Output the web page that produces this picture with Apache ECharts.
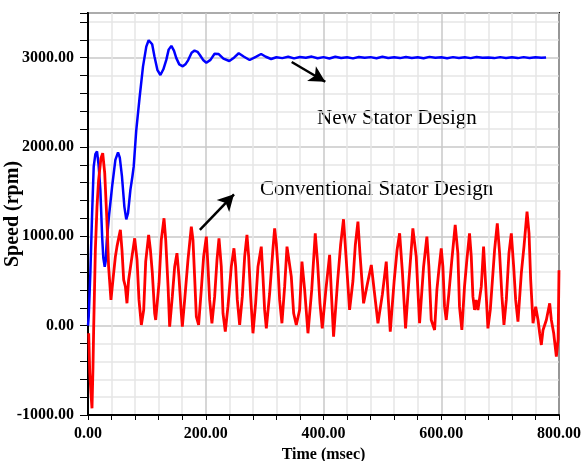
<!DOCTYPE html>
<html>
	<head>
		<meta charset="utf-8">
		<title></title>
		<script src="https://cdn.jsdelivr.net/npm/echarts@6/dist/echarts.min.js"></script>
	</head>
	<body style="margin:0;">
		<div id="my" style="width: 581px;height: 461px;"></div>

		<script>
			var myChart = echarts.init(document.getElementById('my'));

			// [time (msec), speed (rpm)]
			var newStatorSpeed = [[0,0],[1.2,100],[4,590],[7,1260],[9.7,1780],[12.5,1920],[15.3,1950],[18,1800],[21,1520],[24,1000],
				[26,760],[28.4,660],[30,720],[32,960],[36,1250],[41,1560],[46.5,1855],[51,1940],[54,1880],[57.7,1670],
				[61.8,1330],[65,1190],[68,1260],[72,1520],[75.4,1670],[77.6,1780],[82,2190],[87.8,2565],[93.4,2900],[99,3124],
				[103,3195],[106,3206],[109,3150],[113,3011],[118,2860],[123,2806],[128,2870],[133,2975],[137,3090],[141.6,3132],
				[146,3080],[150,2995],[155,2925],[161,2903],[166,2930],[170,2970],[176,3055],[181,3080],[186,3065],[190,3030],
				[196,2970],[201,2944],[208,2975],[215,3043],[217,3060],[222,3040],[230,2990],[240,2963],[248,3000],[256,3049],
				[265,3010],[274.5,2974],[285,3010],[294,3041],[302,3010],[311,2985],[320,3005],[330,2995],[340,3010],[350,2992],
				[360,3008],[370,2998],[380,3012],[390,2994],[400,3006],[410,2990],[420,3010],[430,2996],[440,3004],[450,2992],
				[460,3008],[470,2998],[480,3006],[490,2994],[500,3010],[510,2996],[520,3004],[530,2995],[540,3008],[550,2997],
				[560,3005],[570,2993],[580,3009],[590,2998],[600,3004],[610,2994],[620,3006],[630,2997],[640,3005],[650,2995],
				[660,3007],[670,2998],[680,3003],[690,2995],[700,3006],[710,2997],[720,3004],[730,2995],[740,3006],[750,2997],
				[760,3004],[770,2998],[778,3002]];

			var convStatorSpeed = [[1.2,-85],[3,-530],[5,-755],[6.8,-925],[8.5,-460],[9.7,-10],[12.5,848],[15.3,1333],[18,1630],[22,1875],
				[25,1930],[28.4,1707],[32.3,1147],[35,660],[39,288],[42.4,512],[46.5,773],[49.2,885],[52.6,997],[55,1072],
				[57.7,848],[60.6,512],[63.5,437],[66.2,251],[69,512],[74.7,773],[79.3,978],[83.3,736],[86.6,288],[90.6,8],
				[94.6,176],[98,717],[103,1016],[106,848],[109.3,587],[113.2,139],[115,64],[120.6,475],[124.5,960],[129.1,1202],
				[132,960],[136,437],[138.7,-11],[143.2,325],[147.2,661],[151.1,811],[154.5,549],[158.5,139],[160.2,-11],[164.2,288],
				[169.8,736],[175.5,1109],[178.3,960],[181.1,549],[184,101],[187.9,8],[192.4,400],[196.4,773],[201,997],[203.8,661],
				[206.6,288],[210.5,27],[215.1,325],[219.1,736],[222.5,978],[226.4,661],[229.3,139],[233.2,-67],[237.7,213],[243.4,661],
				[247.9,866],[250.8,661],[253.6,288],[257.6,8],[262.1,325],[266.1,773],[270,1016],[272.9,773],[276.3,325],[280.2,-85],
				[284.7,250],[288.7,661],[294.3,885],[297.2,549],[300,176],[302.9,-30],[308.6,363],[314,848],[317,1090],[319.8,922],
				[322.6,661],[325.5,288],[329.4,27],[334,437],[338,885],[341.3,904],[345.3,549],[349.3,139],[353.8,8],[359.4,176],
				[363.4,717],[368,400],[373.6,-85],[380,400],[386,1034],[390,700],[394,250],[397.9,-30],[404,400],[410.4,792],
				[413.5,350],[417.1,-123],[424,500],[429,900],[434,1191],[438,800],[444.3,176],[450,500],[454,900],[458.5,1165],
				[462,800],[468.1,250],[474,450],[481.2,680],[486,400],[492.5,27],[500,350],[506.6,717],[510,300],[513.4,-67],
				[520,500],[525,850],[529.3,1034],[534,600],[539.4,-30],[545,500],[551.8,1090],[557.5,773],[560.3,400],[563.2,27],
				[566,288],[570,661],[575.6,997],[579,661],[583,64],[588.7,-48],[592.6,400],[596,624],[600,866],[602.8,661],
				[605.6,213],[608.5,64],[613,363],[618,736],[623.7,1128],[628.2,811],[631,213],[635,-48],[639.5,437],[643.5,736],
				[648,1034],[651,773],[653.8,325],[656.6,176],[659.4,288],[662.3,176],[668,437],[671.9,885],[675.3,475],[679.3,-30],
				[683.3,176],[690.6,848],[695.2,1146],[699.1,811],[703.1,325],[706.5,8],[710.5,288],[715,811],[719,1034],[723,661],
				[726.4,288],[730.3,45],[736,587],[740.5,885],[745.7,1277],[749.1,1034],[751.9,512],[755.9,27],[760.4,213],[764.4,64],
				[767.2,-85],[770,-216],[772.9,-48],[778.5,64],[784.2,250],[787,64],[791,-85],[795.5,-347],[798.5,-150],[800,620]];

			// annotation arrows, in data units
			var newArrow = [[346, 2952], [403, 2730]];
			var convArrow = [[190, 1072], [248, 1470]];

			var serif = 'Liberation Serif';
			var gridColors = ['#c9c9c9', '#e6e6e6', '#e6e6e6', '#e6e6e6', '#e6e6e6'];

			var option = {
				animation: false,
				grid: {
					left: 88,
					right: 22,
					top: 13,
					bottom: 46,
					outerBoundsMode: 'none',
					containLabel: false,
					show: true,
					borderColor: '#000',
					borderWidth: 2
				},
				xAxis: {
					type: 'value',
					min: 0,
					max: 800,
					interval: 40,
					name: 'Time (msec)',
					nameLocation: 'middle',
					nameGap: 32,
					nameMoveOverlap: false,
					nameTextStyle: {fontFamily: serif, fontWeight: 'bold', fontSize: 16, color: '#000'},
					axisLine: {onZero: false, lineStyle: {color: '#000', width: 2}},
					axisTick: {length: 5, lineStyle: {color: '#000', width: 1}},
					axisLabel: {
						margin: 11,
						fontFamily: serif, fontWeight: 'bold', fontSize: 16, color: '#000',
						formatter: function (v) {
							return v % 200 === 0 ? v.toFixed(2) : '';
						}
					},
					splitLine: {show: true, lineStyle: {color: gridColors, width: 1.5}}
				},
				yAxis: {
					type: 'value',
					min: -1000,
					max: 3500,
					interval: 200,
					name: 'Speed (rpm)',
					nameLocation: 'middle',
					nameGap: 65,
					nameMoveOverlap: false,
					nameTextStyle: {fontFamily: serif, fontWeight: 'bold', fontSize: 20, color: '#000'},
					axisLine: {onZero: false, lineStyle: {color: '#000', width: 2}},
					axisTick: {length: 8, lineStyle: {color: '#000', width: 1}},
					axisLabel: {
						margin: 14,
						fontFamily: serif, fontWeight: 'bold', fontSize: 16, color: '#000',
						formatter: function (v) {
							return v % 1000 === 0 ? v.toFixed(2) : '';
						}
					},
					splitLine: {show: true, lineStyle: {color: gridColors, width: 1.5}}
				},
				graphic: [
					{type: 'text', left: 317, top: 108, style: {text: 'New Stator Design', font: '21px "Liberation Serif"', fill: '#000'}},
					{type: 'text', left: 260, top: 179, style: {text: 'Conventional Stator Design', font: '21px "Liberation Serif"', fill: '#000'}}
				],
				series: [
					{
						name: 'New Stator Design',
						type: 'line',
						data: newStatorSpeed,
						showSymbol: false,
						symbol: 'none',
						lineStyle: {color: '#0000ff', width: 2.5},
						markLine: {
							silent: true,
							symbol: ['none', 'arrow'],
							symbolSize: [13, 16],
							label: {show: false},
							lineStyle: {color: '#000', width: 2.5, type: 'solid'},
							data: [[{coord: newArrow[0]}, {coord: newArrow[1]}]]
						}
					},
					{
						name: 'Conventional Stator Design',
						type: 'line',
						data: convStatorSpeed,
						showSymbol: false,
						symbol: 'none',
						lineStyle: {color: '#ff0000', width: 2.8},
						markLine: {
							silent: true,
							symbol: ['none', 'arrow'],
							symbolSize: [13, 16],
							label: {show: false},
							lineStyle: {color: '#000', width: 2.5, type: 'solid'},
							data: [[{coord: convArrow[0]}, {coord: convArrow[1]}]]
						}
					}
				]
			};

			myChart.setOption(option);
		</script>
	</body>
</html>
